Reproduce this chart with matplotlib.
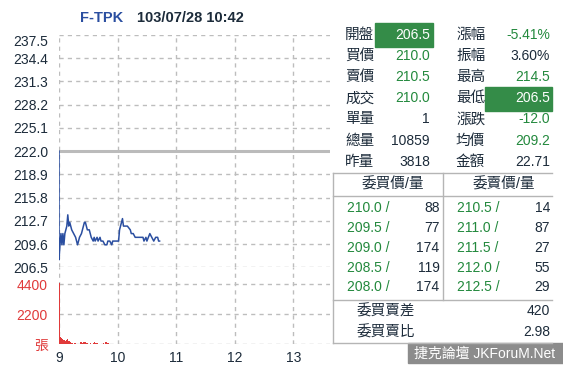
import matplotlib.pyplot as plt
from matplotlib.patches import Rectangle
from matplotlib.lines import Line2D

plt.rcParams['font.family'] = ['Liberation Sans', 'Noto Sans CJK TC', 'DejaVu Sans']

# ---- data ----
symbol = "F-TPK"
stamp = "103/07/28 10:42"
prev_close = 222.0

price_ticks = [206.5, 209.6, 212.7, 215.8, 218.9, 222.0, 225.1, 228.2, 231.3, 234.4, 237.5]
vol_ticks = [0, 2200, 4400]
hour_ticks = [9, 10, 11, 12, 13]

# minutes after 09:00 and traded price
minutes = [0, 0, 1, 2, 3, 4, 5, 6, 8, 9, 10, 11, 13, 15, 17, 19, 21, 23, 26, 27, 29, 31,
           33, 35, 36, 37, 39, 40, 42, 43, 45, 47, 49, 50, 52, 54, 55, 59, 61, 62, 65,
           66, 70, 73, 74, 76, 78, 79, 83, 86, 87, 89, 90, 93, 95, 97, 99, 101, 102, 103]
prices = [222.0, 207.5, 209.5, 211.0, 209.5, 211.0, 209.5, 211.0, 212.0, 213.5, 212.0,
          212.5, 211.5, 211.0, 210.5, 209.5, 210.5, 211.0, 212.5, 212.5, 211.5, 211.5,
          210.5, 210.0, 210.5, 210.0, 210.5, 210.0, 210.5, 210.0, 210.0, 209.5, 209.5,
          210.0, 210.0, 209.5, 210.0, 210.0, 210.0, 211.5, 213.0, 212.0, 212.0, 211.5,
          211.0, 211.0, 210.5, 210.5, 210.5, 210.5, 210.0, 210.5, 210.0, 211.0, 210.5,
          210.0, 210.5, 210.5, 210.0, 210.0]

# volume per minute from 09:00
volumes = [4450, 540, 420, 390, 300, 290, 240, 260, 340, 240, 200, 130, 60, 40, 30, 50,
           40, 60, 150, 170, 120, 160, 130, 170, 110, 150, 170, 120, 90, 40, 30, 20,
           40, 30, 20, 40, 120, 90, 110, 60, 20, 30, 20, 30, 20, 40, 30, 130, 150, 90,
           40, 20, 30, 20, 20, 30, 20, 20, 30, 20, 20, 100, 30, 20, 10, 20, 30, 20, 10,
           20, 30, 20, 20, 10, 20, 20, 30, 20, 10, 20, 20, 30, 20, 10, 20, 20, 10, 20,
           30, 20, 10, 20, 20, 10, 20, 20, 30, 10, 20, 20, 10, 20, 20, 10]

quote_left = [("開盤", "206.5"), ("買價", "210.0"), ("賣價", "210.5"), ("成交", "210.0"),
              ("單量", "1"), ("總量", "10859"), ("昨量", "3818")]
quote_right = [("漲幅", "-5.41%"), ("振幅", "3.60%"), ("最高", "214.5"), ("最低", "206.5"),
               ("漲跌", "-12.0"), ("均價", "209.2"), ("金額", "22.71")]

bid_prices = ["210.0", "209.5", "209.0", "208.5", "208.0"]
bid_qty = [88, 77, 174, 119, 174]
ask_prices = ["210.5", "211.0", "211.5", "212.0", "212.5"]
ask_qty = [14, 87, 27, 55, 29]
book_diff = 420
book_ratio = 2.98

# ---- styles ----
W, H = 563, 368
DARK = '#1c2b3a'
GREEN = '#23893d'
BOX = '#348c48'
RED = '#e03a3a'
BLUE = '#2a4ea0'
GRID = '#bdbdbd'
left_colors = ['white', GREEN, GREEN, GREEN, DARK, DARK, DARK]
right_colors = [GREEN, DARK, GREEN, 'white', GREEN, GREEN, DARK]


def fx(x):
    return x / W


def fy(y):
    return 1 - y / H


fig = plt.figure(figsize=(W / 100, H / 100), dpi=100)

# price panel
ax = fig.add_axes([fx(59), fy(267.3), fx(330) - fx(59), fy(35) - fy(267.3)])
hours = [9 + m / 60 for m in minutes]
ax.axhline(prev_close, color='#bbbbbb', lw=2.2, zorder=2)
ax.plot(hours, prices, color=BLUE, lw=1.1, zorder=3)
ax.set_ylim(206.5, 237.5)
ax.set_yticks(price_ticks)
ax.set_yticklabels([f"{v:.1f}" for v in price_ticks], color=DARK, fontsize=10)
ylabels = ax.get_yticklabels()
ylabels[0].set_va('center_baseline')
ylabels[-1].set_va('top')

# volume panel
vax = fig.add_axes([fx(59), fy(344), fx(330) - fx(59), fy(267.3) - fy(344)], sharex=ax)
vhours = [9 + i / 60 for i in range(len(volumes))]
vax.bar(vhours, volumes, width=0.9 / 60, align='edge', color=RED, lw=0, zorder=3)
vax.set_ylim(0, 4400 * 76.7 / 60)
vax.set_yticks(vol_ticks)
vax.set_yticklabels(["張", "2200", "4400"], color=RED, fontsize=10)

for a in (ax, vax):
    a.set_xlim(9, 9 + (330 - 59) / 58.6)
    a.set_xticks(hour_ticks)
    a.grid(True, color=GRID, lw=1, ls=(0, (3, 3)))
    a.set_axisbelow(True)
    for s in a.spines.values():
        s.set_visible(False)
    a.tick_params(length=0, pad=8)
ax.tick_params(labelbottom=False)
vax.set_xticklabels([str(h) for h in hour_ticks], color=DARK, fontsize=10)
vax.tick_params(axis='x', pad=5)

# title
fig.text(fx(80), fy(18), symbol, color=BLUE, fontsize=10.5, fontweight='bold', va='center')
fig.text(fx(137), fy(18), stamp, color=DARK, fontsize=10.5, fontweight='bold', va='center')

# quote table
fig.patches.append(Rectangle((fx(375), fy(47)), fx(433) - fx(375), fy(23) - fy(47),
                             transform=fig.transFigure, color=BOX, zorder=0))
fig.patches.append(Rectangle((fx(485), fy(111)), fx(552) - fx(485), fy(87) - fy(111),
                             transform=fig.transFigure, color=BOX, zorder=0))
for i, ((ll, lv), (rl, rv)) in enumerate(zip(quote_left, quote_right)):
    y = fy(35 + i * 21.1)
    fig.text(fx(345), y, ll, color=DARK, fontsize=10.5, va='center')
    fig.text(fx(430), y, lv, color=left_colors[i], fontsize=10, va='center', ha='right')
    fig.text(fx(456), y, rl, color=DARK, fontsize=10.5, va='center')
    fig.text(fx(550), y, rv, color=right_colors[i], fontsize=10, va='center', ha='right')

# order book
border = '#b5b5b5'
segs = [((333, 172.7), (552, 172.7)), ((333, 342.7), (552, 342.7)),
        ((333, 172.7), (333, 342.7)),
        ((333, 196), (552, 196)), ((333, 300), (552, 300)),
        ((443.3, 172.7), (443.3, 300))]
for (x0, y0), (x1, y1) in segs:
    fig.add_artist(Line2D([fx(x0), fx(x1)], [fy(y0), fy(y1)], color=border, lw=1,
                          transform=fig.transFigure))
fig.text(fx(393), fy(184), "委買價/量", color=DARK, fontsize=10.5, ha='center', va='center')
fig.text(fx(504), fy(184), "委賣價/量", color=DARK, fontsize=10.5, ha='center', va='center')
for i in range(5):
    y = fy(208.3 + i * 19.75)
    fig.text(fx(347), y, bid_prices[i] + " /", color=GREEN, fontsize=10, va='center')
    fig.text(fx(439.5), y, str(bid_qty[i]), color=DARK, fontsize=10, va='center', ha='right')
    fig.text(fx(457), y, ask_prices[i] + " /", color=GREEN, fontsize=10, va='center')
    fig.text(fx(550), y, str(ask_qty[i]), color=DARK, fontsize=10, va='center', ha='right')
fig.text(fx(357), fy(311), "委買賣差", color=DARK, fontsize=10.5, va='center')
fig.text(fx(550), fy(311), str(book_diff), color=DARK, fontsize=10, va='center', ha='right')
fig.text(fx(357), fy(332), "委買賣比", color=DARK, fontsize=10.5, va='center')
fig.text(fx(550), fy(332), f"{book_ratio:.2f}", color=DARK, fontsize=10, va='center', ha='right')

# watermark
fig.patches.append(Rectangle((fx(408), fy(363)), fx(563) - fx(408), fy(343) - fy(363),
                             transform=fig.transFigure, color='#8c8c8c', zorder=0))
fig.text(fx(485), fy(353.5), "捷克論壇 JKForuM.Net", color='white', fontsize=10,
         ha='center', va='center')

fig.savefig("out.png", dpi=100)
